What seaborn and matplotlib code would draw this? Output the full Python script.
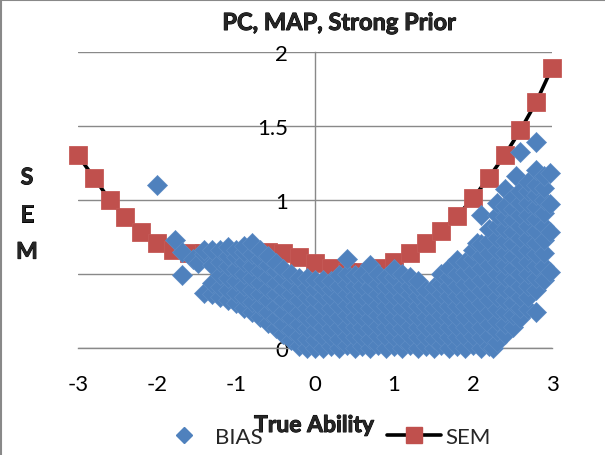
import matplotlib
matplotlib.use("Agg")
import matplotlib.pyplot as plt
import matplotlib.patheffects as pe
from matplotlib.lines import Line2D
import pandas as pd
import seaborn as sns

# Standard error of measurement along the true-ability grid
sem_theta = [-3.0, -2.8, -2.6, -2.4, -2.2, -2.0, -1.8, -1.6, -1.4, -1.2, -1.0,
             -0.8, -0.6, -0.4, -0.2, 0.0, 0.2, 0.4, 0.6, 0.8, 1.0,
             1.2, 1.4, 1.6, 1.8, 2.0, 2.2, 2.4, 2.6, 2.8, 3.0]
sem_values = [1.30, 1.15, 1.00, 0.88, 0.78, 0.71, 0.66, 0.64, 0.64, 0.64, 0.65,
              0.65, 0.65, 0.64, 0.61, 0.57, 0.54, 0.51, 0.51, 0.54, 0.58,
              0.64, 0.71, 0.79, 0.89, 1.01, 1.15, 1.30, 1.47, 1.66, 1.89]

# Absolute bias of the simulated examinees, grouped by true ability
bias_low = [
    (-2.00, [1.10]),
    (-1.77, [0.73]),
    (-1.68, [0.49, 0.65]),
    (-1.55, [0.60]),
    (-1.48, [0.57]),
    (-1.40, [0.37, 0.63, 0.66]),
    (-1.30, [0.36, 0.44, 0.56, 0.66]),
    (-1.20, [0.34, 0.41, 0.49, 0.58, 0.66]),
    (-1.10, [0.32, 0.39, 0.47, 0.55, 0.62, 0.68]),
    (-1.00, [0.30, 0.37, 0.45, 0.53, 0.61, 0.66]),
    (-0.90, [0.27, 0.34, 0.42, 0.50, 0.58, 0.65, 0.69]),
    (-0.80, [0.24, 0.31, 0.39, 0.47, 0.55, 0.63, 0.71]),
    (-0.70, [0.21, 0.28, 0.36, 0.44, 0.52, 0.60, 0.66]),
    (-0.60, [0.17, 0.24, 0.32, 0.40, 0.48, 0.56, 0.62]),
    (-0.50, [0.13, 0.20, 0.28, 0.36, 0.44, 0.52, 0.57]),
    (-0.40, [0.09, 0.16, 0.24, 0.32, 0.40, 0.47, 0.53]),
    (-0.30, [0.05, 0.12, 0.20, 0.28, 0.36, 0.43, 0.50]),
    (-0.20, [0.01, 0.08, 0.16, 0.24, 0.32, 0.40, 0.47]),
    (-0.10, [0.00, 0.06, 0.13, 0.20, 0.27, 0.34, 0.41, 0.47]),
    (0.00, [0.00, 0.05, 0.12, 0.19, 0.26, 0.33, 0.40, 0.46]),
]
bias_mid = [
    (0.10, [0.00, 0.07, 0.14, 0.21, 0.28, 0.35, 0.41, 0.46]),
    (0.20, [0.01, 0.07, 0.13, 0.20, 0.27, 0.34, 0.40, 0.45]),
    (0.30, [0.00, 0.06, 0.14, 0.21, 0.28, 0.35, 0.42, 0.49]),
    (0.40, [0.02, 0.08, 0.15, 0.22, 0.29, 0.36, 0.43, 0.50, 0.60]),
    (0.50, [0.00, 0.07, 0.14, 0.21, 0.28, 0.35, 0.42, 0.49]),
    (0.60, [0.01, 0.07, 0.14, 0.21, 0.28, 0.35, 0.42, 0.50]),
    (0.70, [0.00, 0.06, 0.13, 0.20, 0.27, 0.34, 0.41, 0.48, 0.56]),
    (0.80, [0.02, 0.08, 0.15, 0.22, 0.29, 0.36, 0.43, 0.50]),
    (0.90, [0.00, 0.07, 0.14, 0.21, 0.28, 0.35, 0.42, 0.48]),
    (1.00, [0.01, 0.07, 0.14, 0.21, 0.28, 0.35, 0.42, 0.48, 0.53]),
    (1.10, [0.00, 0.06, 0.13, 0.20, 0.27, 0.34, 0.41, 0.50]),
    (1.20, [0.02, 0.08, 0.15, 0.22, 0.29, 0.36, 0.42, 0.48]),
    (1.30, [0.00, 0.07, 0.14, 0.21, 0.28, 0.35, 0.41, 0.45]),
    (1.40, [0.01, 0.07, 0.14, 0.21, 0.28, 0.34, 0.39]),
    (1.50, [0.00, 0.06, 0.13, 0.20, 0.27, 0.34, 0.41]),
    (1.60, [0.02, 0.08, 0.15, 0.22, 0.29, 0.36, 0.43, 0.50]),
    (1.70, [0.00, 0.07, 0.14, 0.21, 0.28, 0.35, 0.42, 0.48, 0.54]),
]
bias_high = [
    (1.80, [0.01, 0.07, 0.14, 0.21, 0.28, 0.35, 0.42, 0.50, 0.59]),
    (1.90, [0.00, 0.07, 0.14, 0.21, 0.28, 0.35, 0.43, 0.51, 0.58]),
    (2.00, [0.02, 0.08, 0.15, 0.22, 0.29, 0.36, 0.44, 0.52, 0.60, 0.66]),
    (2.05, [0.71]),
    (2.10, [0.00, 0.07, 0.14, 0.22, 0.30, 0.38, 0.46, 0.54, 0.62, 0.70, 0.90]),
    (2.20, [0.01, 0.08, 0.16, 0.24, 0.32, 0.40, 0.48, 0.56, 0.64, 0.72, 0.80]),
    (2.25, [0.00]),
    (2.30, [0.04, 0.11, 0.18, 0.26, 0.34, 0.42, 0.50, 0.58, 0.66, 0.74, 0.82, 0.90, 0.98]),
    (2.40, [0.09, 0.16, 0.24, 0.32, 0.40, 0.48, 0.56, 0.64, 0.72, 0.80, 0.88, 0.96, 1.07]),
    (2.50, [0.14, 0.22, 0.30, 0.38, 0.46, 0.54, 0.62, 0.70, 0.78, 0.86, 0.94, 1.02]),
    (2.55, [1.16]),
    (2.60, [0.20, 0.27, 0.34, 0.42, 0.50, 0.58, 0.66, 0.74, 0.82, 0.90, 0.98, 1.06, 1.32]),
    (2.70, [0.26, 0.34, 0.42, 0.50, 0.58, 0.66, 0.74, 0.82, 0.90, 0.98, 1.06, 1.12]),
    (2.80, [0.24, 0.39, 0.47, 0.55, 0.63, 0.71, 0.79, 0.87, 0.95, 1.03, 1.10, 1.20, 1.39]),
    (2.90, [0.46, 0.55, 0.64, 0.73, 0.82, 0.91, 1.00, 1.08, 1.16]),
    (2.97, [0.51, 0.78, 0.97, 1.18]),
]

x_ticks = [-3, -2, -1, 0, 1, 2, 3]
x_tick_labels = ["-3", "-2", "-1", "0", "1", "2", "3"]
y_ticks = [0, 0.5, 1, 1.5, 2]
y_tick_labels = ["0", "0.5", "1", "1.5", "2"]

BLUE = "#4F81BD"
BLUE_EDGE = "#5E8CC5"
RED = "#C0504D"
RED_EDGE = "#C55A57"
GRAY = "#898989"

sem_df = pd.DataFrame({"theta": sem_theta, "sem": sem_values})
rows = [(t, v) for group in (bias_low, bias_mid, bias_high)
        for t, vals in group for v in vals]
bias_df = pd.DataFrame(rows, columns=["theta", "bias"])

sns.set_style("white")
plt.rcParams["font.family"] = ["Lato", "DejaVu Sans"]
plt.rcParams["axes.unicode_minus"] = False

# heavier strokes for the bold headings
heavy = [pe.withStroke(linewidth=0.7, foreground="black")]

fig = plt.figure(figsize=(6.05, 4.56), dpi=100)
ax = fig.add_axes([78 / 605, 1 - 348.7 / 456, 474 / 605, 296 / 456])

sns.lineplot(data=sem_df, x="theta", y="sem", ax=ax, color="black",
             linewidth=2.6, marker="s", markersize=13,
             markerfacecolor=RED, markeredgecolor=RED_EDGE,
             markeredgewidth=0.6, zorder=3, legend=False)
sns.scatterplot(data=bias_df, x="theta", y="bias", ax=ax, marker="D", s=104,
                color=BLUE, edgecolor=BLUE_EDGE, linewidth=0.5, zorder=4,
                legend=False)
for artist in list(ax.lines) + list(ax.collections):
    artist.set_clip_on(False)

ax.set_xlim(-3, 3)
ax.set_ylim(0, 2)
ax.set_xticks(x_ticks)
ax.set_xticklabels(x_tick_labels)
ax.set_yticks(y_ticks)
ax.set_yticklabels(y_tick_labels)

for side in ("top", "right"):
    ax.spines[side].set_visible(False)
ax.spines["left"].set_position(("data", 0))
for side in ("left", "bottom"):
    ax.spines[side].set_color(GRAY)
    ax.spines[side].set_linewidth(1.0)
ax.yaxis.grid(True, color=GRAY, linewidth=1.0)
ax.xaxis.grid(False)
ax.set_axisbelow(True)
ax.tick_params(axis="x", direction="out", length=5.8, width=1.0, color=GRAY,
               pad=13, labelsize=16, labelcolor="black")
ax.tick_params(axis="y", direction="out", length=5.8, width=1.0, color=GRAY,
               pad=13.7, labelsize=16, labelcolor="black")

ax.set_xlabel("True Ability", fontsize=16.5, fontweight="bold")
ax.xaxis.set_label_coords((314 - 78) / 474, (348.7 - 433) / 296)
ax.xaxis.label.set_va("baseline")
ax.xaxis.label.set_path_effects(heavy)
ax.set_ylabel("S\nE\nM", rotation=0, fontsize=16.5, fontweight="bold",
              linespacing=1.95, ha="center", va="center")
ax.yaxis.set_label_coords((27 - 78) / 474, (348.7 - 216) / 296)
ax.yaxis.label.set_path_effects(heavy)

fig.text(339 / 605, 1 - 31 / 456, "PC, MAP, Strong Prior", ha="center",
         va="baseline", fontsize=17, fontweight="bold", path_effects=heavy)

handles = [
    Line2D([], [], linestyle="none", marker="D", markersize=8.1,
           markerfacecolor=BLUE, markeredgecolor=BLUE),
    Line2D([], [], color="black", linewidth=2.6, marker="s", markersize=12.2,
           markerfacecolor=RED, markeredgecolor=RED),
]
fig.legend(handles, ["BIAS", "SEM"], loc="center", ncol=2, frameon=False,
           bbox_to_anchor=(324 / 605, 1 - 438 / 456), fontsize=16,
           handlelength=2.43, handletextpad=0.2, columnspacing=5.6,
           borderpad=0, borderaxespad=0)

# chart-area border along the left and top edges
fig.add_artist(Line2D([0.0015, 0.0015], [0, 1], transform=fig.transFigure,
                      color=GRAY, linewidth=1.5))
fig.add_artist(Line2D([0, 1], [0.998, 0.998], transform=fig.transFigure,
                      color=GRAY, linewidth=1.5))

fig.savefig("out.png", dpi=100)
